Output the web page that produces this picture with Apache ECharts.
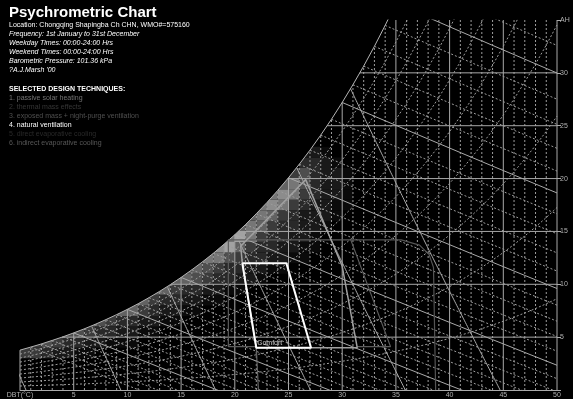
<!DOCTYPE html>
<html><head><meta charset="utf-8">
<script src="https://cdn.jsdelivr.net/npm/echarts@6/dist/echarts.min.js"></script>
<style>html,body{margin:0;padding:0;background:#000;}#c{width:573px;height:399px;}</style>
</head><body><div id="c"></div>
<script>
// saturation absolute humidity (g/kg) at 101.36 kPa for 0..50 °C
const satT = [0,1,2,3,4,5,6,7,8,9,10,11,12,13,14,15,16,17,18,19,20,21,22,23,24,25,26,27,28,29,30,31,32,33,34,35,36,37,38,39,40,41,42,43,44,45,46,47,48,49,50];
const satAH = [3.77,4.06,4.36,4.69,5.03,5.40,5.79,6.21,6.66,7.13,7.63,8.16,8.73,9.33,9.97,10.65,11.37,12.13,12.93,13.79,14.69,15.65,16.67,17.74,18.88,20.08,21.35,22.69,24.11,25.61,27.20,28.88,30.64,32.51,34.49,36.57,38.77,41.10,43.55,46.14,48.88,51.76,54.82,58.04,61.44,65.03,68.83,72.85,77.09,81.57,86.32];
const rhLevels = [0.1,0.2,0.3,0.4,0.5,0.6,0.7,0.8,0.9];
const wbTemps = [1,2,3,4,5,6,7,8,9,10,11,12,13,14,15,16,17,18,19,20,21,22,23,24,25,26,27,28,29,30,31,32,33,34,35,36];
const volLevels = [0.775,0.8,0.825,0.85,0.875,0.9];
const ahLines = [5,10,15,20,25,30];
const pressure = 101.36;
const xTicks = [0,5,10,15,20,25,30,35,40,45,50];
const yTicks = [0,5,10,15,20,25,30,35];
// comfort zone and design technique zone outlines
const comfortT = [20.7,24.8,27.1,22.0,20.7];
const comfortAH = [12,12,4,4,12];
const ventT = [22.0,20.7,20.55,26.6,30.0,31.4,22.0];
const ventAH = [4,12,13.6,19.9,11.7,4,4];
const massT = [22.0,19.4,19.4,30.8,34.5,31.4];
const massAH = [4.1,4.1,14.2,14.2,4.1,4.1];
const purgeT = [30.8,35.5,37.2,38.1,38.5,38.7];
const purgeAH = [14.2,14.2,13.7,12.8,11.6,0];
const purgeBaseT = [22.0,22.2];
const purgeBaseAH = [4,0];
// hourly frequency cells: AH bin, first DBT bin, levels
const heatAH = [3,4,5,6,7,8,9,10,11,12,13,14,15,16,17,18,19,20,21,22];
const heatStartT = [0,1,4,6,9,10,12,14,15,17,18,19,20,21,22,23,24,25,26,26];
const heatLevels = [
 [4,4,3,2,2,1,1],
 [4,5,4,3,3,2,2,1,1,1],
 [5,5,4,3,3,2,2,1,1],
 [6,5,4,3,3,2,2,1,1],
 [6,6,4,3,2,2,1,1],
 [6,6,4,3,3,2,2,1,1],
 [6,6,4,3,3,2,2,1,1],
 [6,6,5,4,3,3,2,2,1],
 [6,6,5,4,3,3,2,2,1,1],
 [7,7,5,4,3,3,2,2,1,1],
 [8,9,6,4,3,3,2,2,1,1],
 [7,9,7,4,3,3,2,2,1],
 [6,7,6,4,3,3,2,2,1],
 [6,7,6,4,3,2,2,2,1],
 [7,8,7,4,3,2,2,1,1],
 [7,8,7,4,3,2,2,1],
 [6,7,5,3,2,2,1],
 [4,5,3,2,2,1],
 [3,3,2,1],
 [2,2,1]
];
const infoLines = [
 ['Location: Chongqing Shapingba Ch CHN, WMO#=575160','normal','#ffffff'],
 ['Frequency: 1st January to 31st December','italic','#ffffff'],
 ['Weekday Times: 00:00-24:00 Hrs','italic','#ffffff'],
 ['Weekend Times: 00:00-24:00 Hrs','italic','#ffffff'],
 ['Barometric Pressure: 101.36 kPa','italic','#ffffff'],
 ['?A.J.Marsh \'00','italic','#ffffff']
];
const techLines = [
 ['1. passive solar heating','#747474'],
 ['2. thermal mass effects','#363636'],
 ['3. exposed mass + night-purge ventilation','#505050'],
 ['4. natural ventilation','#ffffff'],
 ['5. direct evaporative cooling','#2a2a2a'],
 ['6. indirect evaporative cooling','#585858']
];

function satAt(t){
  if (t <= 0) return satAH[0];
  if (t >= 50) return satAH[50];
  const i = Math.floor(t), f = t - i;
  return satAH[i] + (satAH[i+1]-satAH[i])*f;
}
function tSatFor(ah){
  if (ah <= satAH[0]) return 0;
  for (let i=0;i<50;i++){ if (satAH[i+1] >= ah){ return i + (ah - satAH[i])/(satAH[i+1]-satAH[i]); } }
  return 50;
}
const series = [];
const solidC = '#a9a9a9', dashC = '#9c9c9c';
function addLine(pts, dashed, color, width, z){
  series.push({type:'line', data:pts, symbol:'none', silent:true, animation:false, clip:true, z:z||3,
    lineStyle:{color:color || (dashed?dashC:solidC), width:width||1, type: dashed?[2,2]:'solid'}});
}
// heat cells (clipped under the saturation curve)
const cells = [];
heatAH.forEach((ah, r) => { heatLevels[r].forEach((v, k) => { cells.push([heatStartT[r]+k, ah, v]); }); });
series.push({type:'custom', silent:true, animation:false, z:1, data:cells,
  renderItem: function(params, api){
    const t = api.value(0), a = api.value(1), v = api.value(2);
    const x0 = Math.max(t, tSatFor(a));
    if (x0 >= t+1) return null;
    const pts = [api.coord([x0, a]), api.coord([t+1, a])];
    for (let s=10; s>=0; s--){
      const x = x0 + (t+1-x0)*s/10;
      pts.push(api.coord([x, Math.max(a, Math.min(a+1, satAt(x)))]));
    }
    const g = Math.round(185*Math.pow(v/10, 1.25));
    return {type:'polygon', shape:{points:pts}, style:{fill:'rgb('+g+','+g+','+g+')'}};
  }});
// verticals
satT.forEach(t => { addLine([[t,0],[t,Math.min(satAH[t],35)]], t%5!==0); });
// horizontals
ahLines.forEach(a => { addLine([[tSatFor(a),a],[50,a]], false); });
// saturation curve
addLine(satT.map((t,i)=>[t,satAH[i]]), false, '#b5b5b5');
// RH curves
rhLevels.forEach(rh => { addLine(satT.map((t,i)=>[t, rh*satAH[i]]), true); });
// wet bulb lines
wbTemps.forEach(wb => {
  const ws = satAH[wb]/1000, pts = [];
  for (let t=wb; t<=50; t+=1){
    const w = ((2501-2.326*wb)*ws - 1.006*(t-wb)) / (2501 + 1.86*t - 4.186*wb);
    pts.push([t, w*1000]);
    if (w < 0) break;
  }
  addLine(pts, wb%5!==0);
});
// specific volume lines
volLevels.forEach(v => {
  const pts = [];
  for (let w=0; w<40; w+=0.1){
    const t = v*pressure/(0.287*(1+1.6078*w/1000)) - 273.15;
    if (w > satAt(t)) break;
    pts.push([t, w]);
  }
  addLine(pts, false);
});
// zones
addLine(massT.map((t,i)=>[t,massAH[i]]), false, '#5c5c5c', 1.2, 5);
addLine(purgeT.map((t,i)=>[t,purgeAH[i]]), false, '#555555', 1.2, 5);
addLine(purgeBaseT.map((t,i)=>[t,purgeBaseAH[i]]), false, '#666666', 1.2, 5);
addLine(ventT.map((t,i)=>[t,ventAH[i]]), false, '#a0a0a0', 1.5, 6);
addLine(comfortT.map((t,i)=>[t,comfortAH[i]]), false, '#ffffff', 2, 7);
series.push({type:'scatter', data:[[22.1,4.2]], symbolSize:0, silent:true, animation:false, z:8,
  label:{show:true, position:'right', distance:0, formatter:'Comfort', color:'#ffffff', fontSize:7, fontFamily:'Liberation Sans', offset:[0,-3]}});

const graphic = [{type:'text', left:9, top:5, style:{text:'Psychrometric Chart', fill:'#fff', font:'bold 15px "Liberation Sans"'}}];
infoLines.forEach((l,i)=>{ graphic.push({type:'text', left:9, top:22+i*9, style:{text:l[0], fill:l[2], font:l[1]+' 7px "Liberation Sans"'}}); });
graphic.push({type:'text', left:9, top:86, style:{text:'SELECTED DESIGN TECHNIQUES:', fill:'#fff', font:'bold 7px "Liberation Sans"'}});
techLines.forEach((l,i)=>{ graphic.push({type:'text', left:9, top:95+i*9, style:{text:l[0], fill:l[1], font:'7px "Liberation Sans"'}}); });

const chart = echarts.init(document.getElementById('c'), null, {renderer:'canvas'});
chart.setOption({
  backgroundColor:'#000',
  animation:false,
  grid:{left:20, right:16, top:20, bottom:8, containLabel:false},
  xAxis:{type:'value', min:0, max:50, interval:5,
    axisLine:{show:true, onZero:false, lineStyle:{color:'#aaaaaa'}}, axisTick:{show:false}, splitLine:{show:false},
    axisLabel:{color:'#b0b0b0', fontSize:7, margin:2, fontFamily:'Liberation Sans',
      formatter:v => v===0 ? 'DBT(°C)' : (xTicks.indexOf(v)>=0 ? String(v) : '')}},
  yAxis:{type:'value', position:'right', min:0, max:35, interval:5,
    axisLine:{show:false, onZero:false}, axisTick:{show:true, length:4, lineStyle:{color:'#aaaaaa'}}, splitLine:{show:false},
    axisLabel:{color:'#b0b0b0', fontSize:7, margin:3, fontFamily:'Liberation Sans',
      formatter:v => v===35 ? 'AH' : (v===0 ? '' : (yTicks.indexOf(v)>=0 ? String(v) : ''))}},
  graphic: graphic,
  series: series
});
</script></body></html>
